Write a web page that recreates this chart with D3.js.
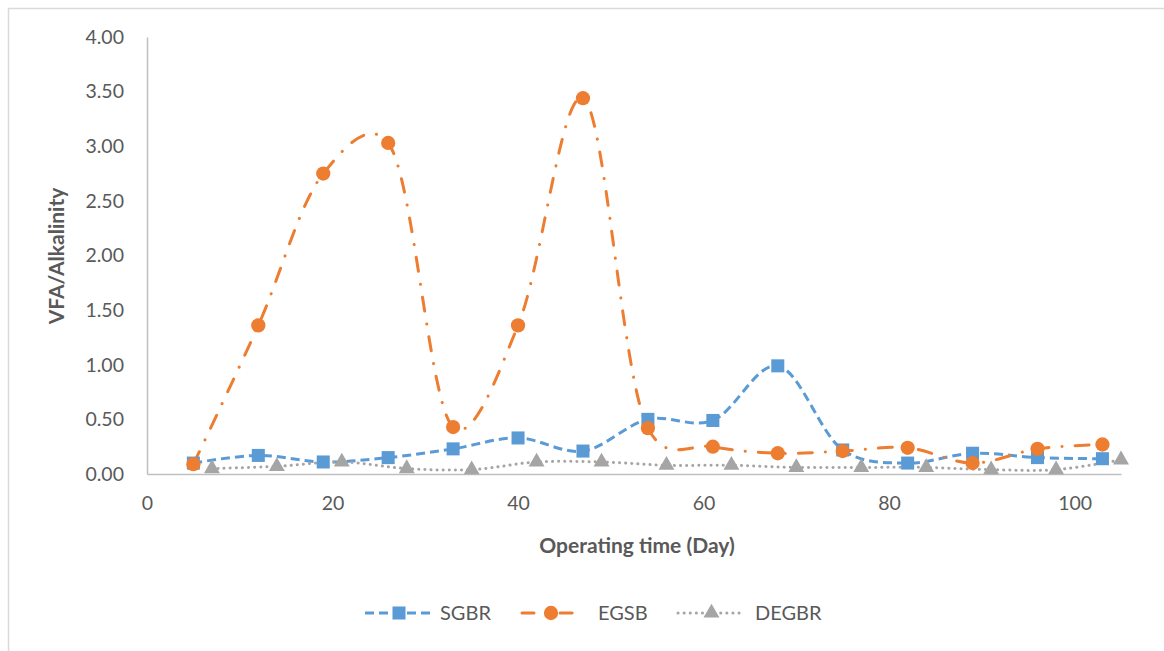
<!DOCTYPE html>
<html>
<head>
<meta charset="utf-8">
<script src="https://cdn.jsdelivr.net/npm/d3@7"></script>
<style>
  html, body { margin: 0; padding: 0; background: #fff; }
  svg { display: block; }
  text { font-family: Lato, "Open Sans", sans-serif; fill: #595959; }
</style>
</head>
<body>
<svg id="chart" width="1164" height="651"></svg>
<script>
// Sampling days for the two reactor groups
const daysA = [5, 12, 19, 26, 33, 40, 47, 54, 61, 68, 75, 82, 89, 96, 103];
const daysB = [7, 14, 21, 28, 35, 42, 49, 56, 63, 70, 77, 84, 91, 98, 105];

// VFA/Alkalinity ratios per reactor
const sgbr  = [0.10, 0.17, 0.11, 0.15, 0.23, 0.33, 0.21, 0.50, 0.49, 0.99, 0.22, 0.10, 0.19, 0.15, 0.14];
const egsb  = [0.09, 1.36, 2.75, 3.03, 0.43, 1.36, 3.44, 0.42, 0.25, 0.19, 0.21, 0.24, 0.10, 0.23, 0.27];
const degbr = [0.05, 0.07, 0.11, 0.05, 0.04, 0.11, 0.11, 0.08, 0.08, 0.06, 0.06, 0.06, 0.04, 0.04, 0.13];

const xTicks = [0, 20, 40, 60, 80, 100];
const yTicks = [0, 0.5, 1, 1.5, 2, 2.5, 3, 3.5, 4];

const svg = d3.select("#chart");

// outer chart frame
svg.append("rect")
  .attr("x", 8.5).attr("y", 8.5)
  .attr("width", 1170).attr("height", 660)
  .attr("fill", "none").attr("stroke", "#D9D9D9").attr("stroke-width", 1.5);

const x = d3.scaleLinear().domain([0, 105]).range([147, 1121]);
const y = d3.scaleLinear().domain([0, 4]).range([474, 37]);

// axes
const xAxis = svg.append("g").attr("transform", `translate(0,${y(0)})`)
  .call(d3.axisBottom(x).tickValues(xTicks).tickSize(0).tickPadding(22).tickFormat(d3.format("d")));
const yAxis = svg.append("g").attr("transform", `translate(${x(0)},0)`)
  .call(d3.axisLeft(y).tickValues(yTicks).tickSize(0).tickPadding(23).tickFormat(d3.format(".2f")));
[xAxis, yAxis].forEach(g => {
  g.select(".domain").attr("stroke", "#BFBFBF").attr("stroke-width", 1.5);
  g.selectAll("text").style("font-size", "19.5px").attr("fill", "#595959");
});

// axis titles
svg.append("text")
  .attr("x", 637).attr("y", 553)
  .attr("text-anchor", "middle")
  .style("font-size", "21px").style("font-weight", "bold")
  .text("Operating time (Day)");
svg.append("text")
  .attr("transform", "translate(64,256) rotate(-90)")
  .attr("text-anchor", "middle")
  .style("font-size", "21px").style("font-weight", "bold")
  .text("VFA/Alkalinity");

const series = [
  { name: "SGBR",  days: daysA, vals: sgbr,  color: "#5B9BD5", dash: "9 5",          cap: "butt",  marker: "square" },
  { name: "EGSB",  days: daysA, vals: egsb,  color: "#ED7D31", dash: "14 13 0.1 13", cap: "round", marker: "circle" },
  { name: "DEGBR", days: daysB, vals: degbr, color: "#A5A5A5", dash: "0.1 6",        cap: "round", marker: "triangle" }
];

// smoothed lines; a mild Catmull-Rom alpha keeps overshoot small next to short segments
const line = d3.line()
  .x(d => x(d[0])).y(d => y(d[1]))
  .curve(d3.curveCatmullRom.alpha(0.2));

const symbolFor = {
  square: d3.symbol().type(d3.symbolSquare).size(170),
  circle: d3.symbol().type(d3.symbolCircle).size(160),
  triangle: d3.symbol().type(d3.symbolTriangle).size(110)
};

// lines first, then markers on top
series.forEach(s => {
  const pts = s.days.map((d, i) => [d, s.vals[i]]);
  svg.append("path")
    .datum(pts)
    .attr("d", line)
    .attr("fill", "none")
    .attr("stroke", s.color)
    .attr("stroke-width", 3)
    .attr("stroke-dasharray", s.dash)
    .attr("stroke-linecap", s.cap);
});
series.forEach(s => {
  const pts = s.days.map((d, i) => [d, s.vals[i]]);
  svg.append("g").selectAll("path")
    .data(pts).join("path")
    .attr("transform", d => `translate(${x(d[0])},${y(d[1])})`)
    .attr("d", symbolFor[s.marker])
    .attr("fill", s.color);
});

// legend
const legendItems = [
  { s: series[0], x0: 365, x1: 433, tx: 440 },
  { s: series[1], x0: 522, x1: 580, tx: 598 },
  { s: series[2], x0: 678, x1: 745, tx: 755 }
];
const ly = 613;
legendItems.forEach(it => {
  const g = svg.append("g");
  g.append("line")
    .attr("x1", it.x0).attr("x2", it.x1).attr("y1", ly).attr("y2", ly)
    .attr("stroke", it.s.color).attr("stroke-width", 3)
    .attr("stroke-dasharray", it.s.name === "EGSB" ? "12 13 0.1 13" : it.s.dash)
    .attr("stroke-linecap", it.s.cap);
  g.append("path")
    .attr("transform", `translate(${(it.x0 + it.x1) / 2},${ly})`)
    .attr("d", symbolFor[it.s.marker])
    .attr("fill", it.s.color);
  g.append("text")
    .attr("x", it.tx).attr("y", ly)
    .attr("dy", "0.35em")
    .style("font-size", "20px")
    .text(it.s.name);
});
</script>
</body>
</html>
